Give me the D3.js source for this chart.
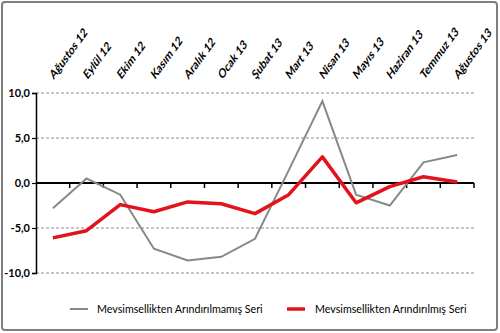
<!DOCTYPE html>
<html><head><meta charset="utf-8">
<script src="https://cdn.jsdelivr.net/npm/d3@7"></script>
<style>body{margin:0;background:#fff}svg{display:block}</style>
</head><body>
<script>
const categories = ["Ağustos 12","Eylül 12","Ekim 12","Kasım 12","Aralık 12","Ocak 13","Şubat 13","Mart 13","Nisan 13","Mayıs 13","Haziran 13","Temmuz 13","Ağustos 13"];
const unadjusted = [-2.8, 0.5, -1.3, -7.3, -8.6, -8.2, -6.2, 1.4, 9.1, -1.3, -2.5, 2.3, 3.1];
const adjusted = [-6.1, -5.3, -2.4, -3.2, -2.1, -2.3, -3.4, -1.3, 2.9, -2.2, -0.4, 0.7, 0.1];
const yTicks = [10, 5, 0, -5, -10];
const seriesNames = ["Mevsimsellikten Arındırılmamış Seri", "Mevsimsellikten Arındırılmış Seri"];

(function () {
const W = 500, H = 333;
const svg = d3.select("body").append("svg").attr("width", W).attr("height", H);
const font = "Lato, 'Open Sans', sans-serif";

svg.append("rect").attr("x", 2).attr("y", 2).attr("width", W - 5).attr("height", H - 5)
  .attr("rx", 3).attr("fill", "#fff").attr("stroke", "#7f7f7f").attr("stroke-width", 2);

const pl = 36, pr = 474, pt = 93, pb = 273;
const x = d3.scaleBand().domain(categories).range([pl, pr]);
const y = d3.scaleLinear().domain([-10, 10]).range([pb, pt]);

// grid
svg.append("g").selectAll("line").data(yTicks.filter(d => d !== 0)).join("line")
  .attr("x1", pl).attr("x2", pr).attr("y1", d => y(d)).attr("y2", d => y(d))
  .attr("stroke", "#8c8c8c").attr("stroke-width", 1).attr("stroke-dasharray", "3,2");

// y axis
const yAxis = d3.axisLeft(y).tickValues(yTicks).tickSize(4).tickFormat(d => d3.format(".1f")(d).replace(".", ",").replace("−", "-"));
const ga = svg.append("g").attr("transform", `translate(${pl},0)`).call(yAxis);
ga.select(".domain").attr("stroke", "#000").attr("stroke-width", 1.5);
ga.selectAll(".tick line").attr("stroke", "#000").attr("stroke-width", 1.2);
ga.selectAll("text").attr("font-family", font).attr("font-weight", "bold").attr("font-size", 11).attr("fill", "#000").attr("x", -6);

// zero axis with ticks
svg.append("line").attr("x1", pl).attr("x2", pr).attr("y1", y(0)).attr("y2", y(0))
  .attr("stroke", "#000").attr("stroke-width", 2);
const bounds = categories.map(c => x(c) + x.bandwidth());
svg.append("g").selectAll("line").data(bounds).join("line")
  .attr("x1", d => d).attr("x2", d => d).attr("y1", y(0)).attr("y2", y(0) + 5)
  .attr("stroke", "#000").attr("stroke-width", 1.5);

// category labels (source image is stretched vertically)
svg.append("g").selectAll("text").data(categories).join("text")
  .attr("transform", d => `translate(${x(d) + x.bandwidth() / 2 + 1},${80}) scale(1,1.37) rotate(-45)`)
  .attr("font-family", font).attr("font-weight", "bold").attr("font-size", 9.6).attr("fill", "#000")
  .text(d => d);

const line = d3.line().x((d, i) => x(categories[i]) + x.bandwidth() / 2).y(d => y(d));
svg.append("path").datum(unadjusted).attr("d", line).attr("fill", "none")
  .attr("stroke", "#888888").attr("stroke-width", 2);
svg.append("path").datum(adjusted).attr("d", line).attr("fill", "none")
  .attr("stroke", "#e3121b").attr("stroke-width", 3.5).attr("stroke-linejoin", "round");

// legend
const legend = [
  {name: seriesNames[0], color: "#888888", w: 2, x1: 70, x2: 88, tx: 97},
  {name: seriesNames[1], color: "#e3121b", w: 3.5, x1: 287, x2: 305, tx: 315}
];
const lg = svg.append("g");
legend.forEach(l => {
  lg.append("line").attr("x1", l.x1).attr("x2", l.x2).attr("y1", 309).attr("y2", 309)
    .attr("stroke", l.color).attr("stroke-width", l.w);
  lg.append("text").attr("x", l.tx).attr("y", 313).attr("font-family", font).attr("font-size", 10.7)
    .attr("fill", "#000").text(l.name);
});
})();
</script>
</body></html>
